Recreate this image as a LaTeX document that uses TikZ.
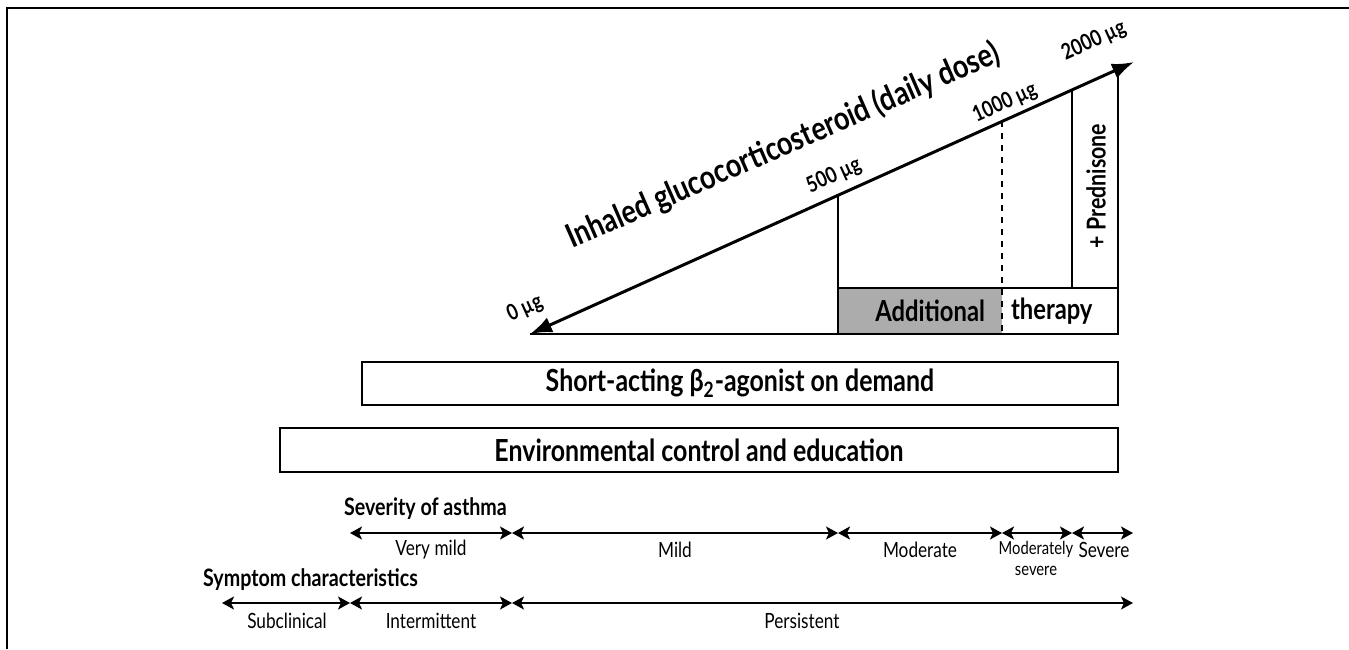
\documentclass[tikz,border=0pt]{standalone}
\usepackage{fontspec}
\setmainfont{Lato}[FakeStretch=0.82]
\usetikzlibrary{arrows.meta}

\begin{document}
\begin{tikzpicture}[x=0.5pt,y=-0.5pt,
  box/.style={draw,line width=.9pt,inner sep=0pt,font=\bfseries\fontsize{15.2}{17}\selectfont},
  dose/.style={font=\bfseries\fontsize{11}{13}\selectfont,rotate=24.3},
  lvl/.style={font=\fontsize{10.5}{12}\selectfont},
  head/.style={font=\bfseries\fontsize{12}{14}\selectfont,anchor=west},
  span/.style={line width=1pt,{Stealth[length=6pt,width=6.5pt,inset=1.5pt]}-{Stealth[length=6pt,width=6.5pt,inset=1.5pt]}}]
\useasboundingbox (0,0) rectangle (1349,649);
\draw[line width=1pt](7,649) -- (7,8) -- (1349,8);

% dose triangle
\coordinate (d0) at (530,334);
\coordinate (d500) at (838,195);
\coordinate (d1000) at (1002,121);
\coordinate (dpred) at (1072,90);
\coordinate (d2000) at (1134,62);
\coordinate (b500) at (838,334);
\coordinate (b1000) at (1002,334);
\coordinate (bend) at (1118,334);
\coordinate (tend) at (1118,70);
\coordinate (t500) at (838,288);
\coordinate (t1000) at (1002,288);
\coordinate (tpred) at (1072,288);
\coordinate (tright) at (1118,288);

\fill[gray!65](t500) rectangle (b1000);
\draw[line width=1.5pt,{Latex[length=11pt,width=8pt]}-{Latex[length=11pt,width=8pt]}](d0) -- (d2000);
\draw[line width=1.4pt](d0) -- (bend) -- (tend);
\draw[line width=.8pt](d500) -- (b500);
\draw[line width=.9pt](t500) -- (tright);
\draw[line width=.8pt](dpred) -- (tpred);
\draw[dashed,line width=.9pt](d1000) -- (b1000);

\node[dose] (l0) at (525,309) {0 µg};
\node[dose] (l500) at (834,176) {500 µg};
\node[dose] (l1000) at (1005,103) {1000 µg};
\node[dose] (l2000) at (1094,41) {2000 µg};
\node[rotate=23.6,font=\bfseries\fontsize{16.5}{19}\selectfont] (ics) at (783,146)
    {Inhaled glucocorticosteroid (daily dose)};
\node[font=\bfseries\fontsize{14.5}{17}\selectfont,anchor=east] (add) at (992,311) {Additional};
\node[font=\bfseries\fontsize{14.5}{17}\selectfont,anchor=west] (ther) at (1004,311) {therapy};
\node[rotate=90,font=\bfseries\fontsize{13}{15}\selectfont] (pred) at (1096,186) {+ Prednisone};

% treatment boxes
\node[box,minimum width=378pt,minimum height=21.5pt] (beta) at (740,383.5)
    {Short-acting β\textsubscript{2}-agonist on demand};
\node[box,minimum width=419pt,minimum height=22pt] (env) at (699,450)
    {Environmental control and education};

% severity of asthma
\node[head] (sev) at (337,509) {Severity of asthma};
\coordinate (s0) at (350,533);
\coordinate (s1) at (512,533);
\coordinate (s2) at (838,533);
\coordinate (s3) at (1002,533);
\coordinate (s4) at (1072,533);
\coordinate (s5) at (1133,533);
\draw[span](s0) -- (s1);
\draw[span](s1) -- (s2);
\draw[span](s2) -- (s3);
\draw[span](s3) -- (s4);
\draw[span](s4) -- (s5);
\node[lvl] (vmild) at (431,550) {Very mild};
\node[lvl] (mild) at (675,550) {Mild};
\node[lvl] (mod) at (920,550) {Moderate};
\node[lvl,font=\fontsize{9}{10.5}\selectfont,align=center] (modsev) at (1036,558) {Moderately\\severe};
\node[lvl] (severe) at (1104,550) {Severe};

% symptom characteristics
\node[head] (sym) at (196,580) {Symptom characteristics};
\coordinate (c0) at (222,603);
\coordinate (c1) at (350,603);
\coordinate (c2) at (512,603);
\coordinate (c3) at (1133,603);
\draw[span](c0) -- (c1);
\draw[span](c1) -- (c2);
\draw[span](c2) -- (c3);
\node[lvl] (subc) at (287,621) {Subclinical};
\node[lvl] (inter) at (431,621) {Intermittent};
\node[lvl] (pers) at (802,621) {Persistent};
\end{tikzpicture}
\end{document}
